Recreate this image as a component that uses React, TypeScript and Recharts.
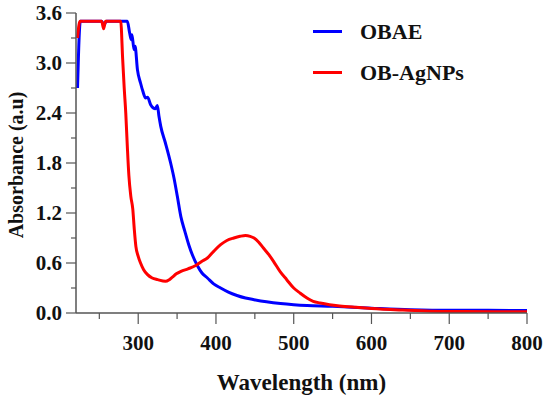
import { LineChart, Line, XAxis, YAxis, Legend } from 'recharts'

// OBAE extract (blue)
const obaeNm = [
  222, 224, 225.5, 253, 256, 259, 286, 289, 291, 292, 294.6, 296, 299, 303, 306,
  309.6, 312, 316, 319.5, 322, 324.6, 326.7, 329, 335, 341.7, 346, 350.3, 355,
  360, 365, 370, 376, 382, 389, 397, 406, 416, 427, 438, 449, 465, 483, 500,
  517, 550, 575, 600, 650, 700, 750, 800,
]
const obaeAbs = [
  2.7, 3.3, 3.5, 3.5, 3.46, 3.5, 3.5, 3.36, 3.28, 3.34, 3.16, 3.2, 2.92, 2.76, 2.66,
  2.58, 2.59, 2.5, 2.46, 2.45, 2.49, 2.36, 2.24, 2.04, 1.8, 1.62, 1.4, 1.15,
  0.98, 0.82, 0.69, 0.57, 0.48, 0.42, 0.35, 0.3, 0.25, 0.21, 0.18, 0.16, 0.135, 0.114, 0.1,
  0.09, 0.08, 0.068, 0.058, 0.04, 0.032, 0.032, 0.03,
]

// OB-AgNPs (red)
const agNm = [
  222, 225, 253, 255.5, 258, 277.5, 280, 282, 284, 286, 288, 290.5, 293, 295, 297,
  300, 303, 307, 312, 318, 325, 335, 340, 344, 349, 355, 364, 374, 382, 389, 397,
  406, 414, 423, 431, 438, 444, 449, 455, 461, 468, 474, 483, 491, 500, 508, 517,
  525, 534, 546, 559, 580, 600, 640, 676, 720, 760, 800,
]
const agAbs = [
  3.3, 3.5, 3.5, 3.41, 3.5, 3.5, 3.05, 2.7, 2.4, 2.0, 1.65, 1.4, 1.25, 1.0, 0.8,
  0.68, 0.6, 0.52, 0.46, 0.42, 0.4, 0.38, 0.4, 0.43, 0.47, 0.5, 0.53, 0.57, 0.62, 0.66, 0.74,
  0.82, 0.87, 0.9, 0.92, 0.93, 0.92, 0.9, 0.85, 0.78, 0.7, 0.62, 0.49, 0.4, 0.3, 0.24, 0.18,
  0.14, 0.12, 0.1, 0.085, 0.068, 0.054, 0.035, 0.022, 0.018, 0.016, 0.015,
]

const xTicks = [250, 300, 350, 400, 450, 500, 550, 600, 650, 700, 750, 800]
const yTicks = [0, 0.3, 0.6, 0.9, 1.2, 1.5, 1.8, 2.1, 2.4, 2.7, 3.0, 3.3, 3.6]

const obaeRows = obaeNm.map((nm, i) => ({ nm, a: obaeAbs[i] }))
const agRows = agNm.map((nm, i) => ({ nm, a: agAbs[i] }))

const FONT = '"Liberation Serif", "Times New Roman", serif'
const AXIS = '#555'

function XTick(props: any) {
  const { x, y, payload } = props
  const major = payload.value % 100 === 0
  return (
    <g>
      <line x1={x} x2={x} y1={y} y2={y + (major ? 11 : 6)} stroke={AXIS} strokeWidth={1.2} />
      {major && (
        <text x={x} y={y + 37} textAnchor="middle" fontFamily={FONT} fontWeight="bold" fontSize={21} fill="#111">
          {payload.value}
        </text>
      )}
    </g>
  )
}

function YTick(props: any) {
  const { x, y, payload } = props
  const major = Math.round(payload.value * 10) % 6 === 0
  return (
    <g>
      <line x1={x - (major ? 10 : 5)} x2={x} y1={y} y2={y} stroke={AXIS} strokeWidth={1.2} />
      {major && (
        <text x={x - 14} y={y + 7} textAnchor="end" fontFamily={FONT} fontWeight="bold" fontSize={21} fill="#111">
          {payload.value.toFixed(1)}
        </text>
      )}
    </g>
  )
}

function LegendBox() {
  const items = [
    { name: 'OBAE', color: '#0000ff' },
    { name: 'OB-AgNPs', color: '#ff0000' },
  ]
  return (
    <div style={{ fontFamily: FONT }}>
      {items.map((it) => (
        <div key={it.name} style={{ height: 41, display: 'flex', alignItems: 'center' }}>
          <div style={{ width: 29, height: 3, background: it.color }} />
          <span style={{ marginLeft: 18, fontSize: 22, fontWeight: 'bold', color: '#111' }}>{it.name}</span>
        </div>
      ))}
    </div>
  )
}

export default function App() {
  return (
    <div style={{ width: 550, height: 402, background: '#fff' }}>
      <style>{'body{margin:0}'}</style>
      <LineChart width={550} height={402} margin={{ top: 13, right: 23, bottom: 0, left: 0 }}>
        <XAxis
          dataKey="nm"
          type="number"
          domain={[220, 800]}
          ticks={xTicks}
          allowDataOverflow
          height={89}
          tickSize={0}
          tickMargin={0}
          tickLine={false}
          axisLine={{ stroke: AXIS, strokeWidth: 1.5 }}
          tick={<XTick />}
          label={{
            content: (p: any) => (
              <text x={p.viewBox.x + p.viewBox.width / 2} y={390} textAnchor="middle" fontFamily={FONT} fontWeight="bold" fontSize={23} fill="#111">
                Wavelength (nm)
              </text>
            ),
          }}
        />
        <YAxis
          type="number"
          domain={[0, 3.6]}
          ticks={yTicks}
          allowDataOverflow
          width={76}
          tickSize={0}
          tickMargin={0}
          tickLine={false}
          axisLine={{ stroke: AXIS, strokeWidth: 1.5 }}
          tick={<YTick />}
          label={{
            content: () => (
              <text x={16} y={165} transform="rotate(-90 16 165)" textAnchor="middle" dominantBaseline="central" fontFamily={FONT} fontWeight="bold" fontSize={20} fill="#111">
                Absorbance (a.u)
              </text>
            ),
          }}
        />
        <Legend
          layout="horizontal"
          verticalAlign="middle"
          align="center"
          content={<LegendBox />}
          wrapperStyle={{ left: 313, top: 11, width: 220 }}
        />
        <Line data={obaeRows} dataKey="a" name="OBAE" type="monotone" stroke="#0000ff" strokeWidth={3} dot={false} isAnimationActive={false} />
        <Line data={agRows} dataKey="a" name="OB-AgNPs" type="monotone" stroke="#ff0000" strokeWidth={3} dot={false} isAnimationActive={false} />
      </LineChart>
    </div>
  )
}
